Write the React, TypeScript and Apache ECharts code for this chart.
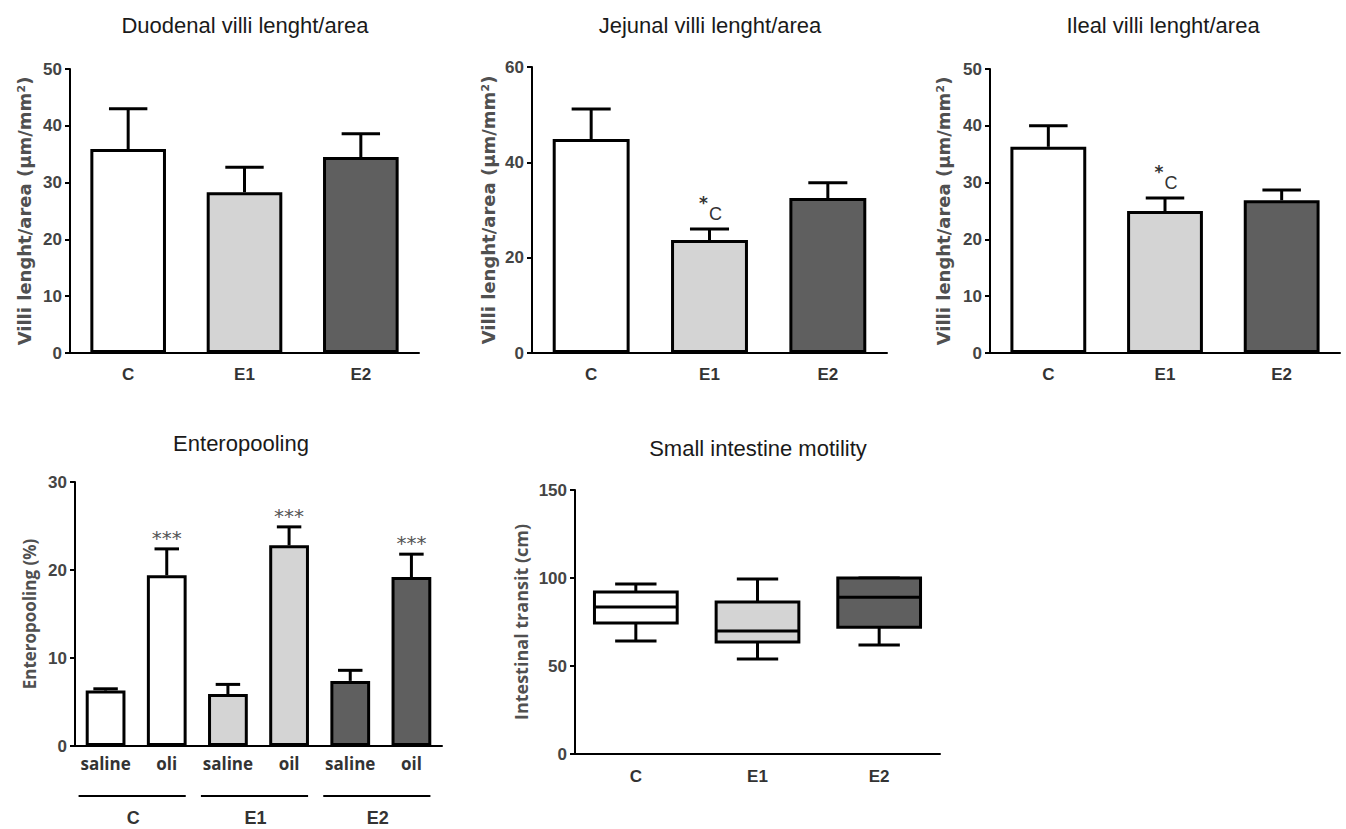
import React, { useEffect, useRef } from "react";
import * as echarts from "echarts";

// ---------- data ----------
const villiCategories = ["C", "E1", "E2"];
const duodenalMean = [35.9, 28.3, 34.5];
const duodenalSem = [7.1, 4.4, 4.1];
const jejunalMean = [44.9, 23.7, 32.5];
const jejunalSem = [6.3, 2.3, 3.2];
const jejunalMarks = ["", "C", ""];
const ilealMean = [36.3, 25.0, 26.9];
const ilealSem = [3.7, 2.3, 1.8];
const ilealMarks = ["", "C", ""];

const poolCategories = ["saline", "oli", "saline", "oil", "saline", "oil"];
const poolGroups = ["C", "E1", "E2"];
const poolMean = [6.3, 19.4, 5.9, 22.8, 7.4, 19.2];
const poolSem = [0.2, 3.0, 1.1, 2.1, 1.2, 2.6];
const poolMarks = ["", "***", "", "***", "", "***"];

const motilityCategories = ["C", "E1", "E2"];
// [min, Q1, median, Q3, max]
const motilityBoxes = [
  [64.2, 74.4, 83.5, 92.0, 96.6],
  [54.0, 63.6, 69.9, 86.4, 99.4],
  [62.0, 72.0, 89.0, 100.0, 100.0],
];

const titles = [
  "Duodenal villi lenght/area",
  "Jejunal villi lenght/area",
  "Ileal villi lenght/area",
  "Enteropooling",
  "Small intestine motility",
];

// ---------- styles ----------
const groupColors = ["#ffffff", "#d4d4d4", "#5f5f5f"];
const poolColors = ["#ffffff", "#ffffff", "#d4d4d4", "#d4d4d4", "#5f5f5f", "#5f5f5f"];
const NUM_FONT = "'Liberation Sans', Arial, sans-serif";
const NAME_FONT = "'DejaVu Sans', sans-serif";
const HUMAN_FONT = "'Open Sans', 'Noto Sans', sans-serif";

const grids = [
  { left: 70, top: 69, width: 349, height: 284 },
  { left: 532, top: 67, width: 355, height: 286 },
  { left: 990, top: 69, width: 350, height: 284 },
  { left: 75, top: 482, width: 367, height: 264 },
  { left: 575, top: 490, width: 365, height: 264 },
];
const titlePos = [
  [245, 25],
  [710, 25],
  [1163, 25],
  [241, 443],
  [758, 448],
];

function makeXAxis(gridIndex: number, data: string[], font: string, margin: number) {
  return {
    type: "category",
    gridIndex,
    data,
    axisLine: { lineStyle: { color: "#000", width: 2 } },
    axisTick: { alignWithLabel: true, length: 6, lineStyle: { color: "#000", width: 2 } },
    axisLabel: { interval: 0, color: "#333", fontFamily: font, fontWeight: "bold", fontSize: 17, margin },
  };
}

function makeYAxis(gridIndex: number, max: number, interval: number, name: string, nameFont: string, nameSize: number, nameGap: number) {
  return {
    type: "value",
    gridIndex,
    min: 0,
    max,
    interval,
    name,
    nameLocation: "middle",
    nameGap,
    nameRotate: 90,
    nameTextStyle: { color: "#505050", fontFamily: nameFont, fontWeight: "bold", fontSize: nameSize },
    splitLine: { show: false },
    axisLine: { show: true, lineStyle: { color: "#000", width: 2 } },
    axisTick: { show: true, length: 5, lineStyle: { color: "#000", width: 2 } },
    axisLabel: { color: "#444", fontFamily: NUM_FONT, fontWeight: "bold", fontSize: 17, margin: 8 },
  };
}

function barSeries(idx: number, values: number[], colors: string[]) {
  return {
    type: "bar",
    xAxisIndex: idx,
    yAxisIndex: idx,
    barWidth: "65%",
    z: 2,
    data: values.map((v, i) => ({
      value: v,
      itemStyle: { color: colors[i], borderColor: "#000", borderWidth: 3 },
    })),
  };
}

function errorSeries(idx: number, mean: number[], sem: number[], marks: string[] | null, markStyle: "letter" | "stars", capFrac: number) {
  return {
    type: "custom",
    xAxisIndex: idx,
    yAxisIndex: idx,
    z: 3,
    clip: false,
    encode: { x: 0, y: [1, 2] },
    data: mean.map((m, i) => [i, m, m + sem[i]]),
    renderItem: (params: any, api: any) => {
      const i = api.value(0);
      const base = api.coord([i, api.value(1)]);
      const top = api.coord([i, api.value(2)]);
      const band = api.size([1, 0])[0];
      const half = band * capFrac;
      const children: any[] = [
        { type: "line", shape: { x1: base[0], y1: base[1], x2: top[0], y2: top[1] }, style: { stroke: "#000", lineWidth: 3 } },
        { type: "line", shape: { x1: top[0] - half, y1: top[1], x2: top[0] + half, y2: top[1] }, style: { stroke: "#000", lineWidth: 3 } },
      ];
      const mark = marks ? marks[params.dataIndex] : "";
      if (mark) {
        if (markStyle === "letter") {
          children.push({
            type: "text",
            style: { x: top[0] - 6, y: top[1] - 26, text: "*", fill: "#333", font: `bold 17px ${NAME_FONT}`, align: "center", verticalAlign: "middle" },
          });
          children.push({
            type: "text",
            style: { x: top[0] + 6, y: top[1] - 15, text: mark, fill: "#333", font: `18px ${NUM_FONT}`, align: "center", verticalAlign: "middle" },
          });
        } else {
          children.push({
            type: "text",
            style: { x: top[0], y: top[1] - 11, text: mark, fill: "#555", font: `20px ${NAME_FONT}`, align: "center", verticalAlign: "middle" },
          });
        }
      }
      return { type: "group", children };
    },
  };
}

export default function App() {
  const ref = useRef<HTMLDivElement>(null);
  useEffect(() => {
    if (!ref.current) return;
    const chart = echarts.init(ref.current, null, { renderer: "svg" });

    const villiName = "Villi lenght/area (μm/mm²)";

    const option: any = {
      animation: false,
      backgroundColor: "#ffffff",
      grid: grids.map((g) => ({ ...g, containLabel: false })),
      xAxis: [
        makeXAxis(0, villiCategories, NUM_FONT, 13),
        makeXAxis(1, villiCategories, NUM_FONT, 13),
        makeXAxis(2, villiCategories, NUM_FONT, 13),
        makeXAxis(3, poolCategories, HUMAN_FONT, 9),
        makeXAxis(4, motilityCategories, NUM_FONT, 14),
      ],
      yAxis: [
        makeYAxis(0, 50, 10, villiName, NAME_FONT, 18, 37),
        makeYAxis(1, 60, 20, villiName, NAME_FONT, 18, 35),
        makeYAxis(2, 50, 10, villiName, NAME_FONT, 18, 38),
        makeYAxis(3, 30, 10, "Enteropooling (%)", HUMAN_FONT, 17, 37),
        makeYAxis(4, 150, 50, "Intestinal transit (cm)", HUMAN_FONT, 18, 45),
      ],
      graphic: titles.map((t, i) => ({
        type: "text",
        x: titlePos[i][0],
        y: titlePos[i][1],
        style: {
          text: t,
          fill: "#1a1a1a",
          font: `22px ${NUM_FONT}`,
          align: "center",
          verticalAlign: "middle",
        },
      })),
      series: [
        barSeries(0, duodenalMean, groupColors),
        errorSeries(0, duodenalMean, duodenalSem, null, "letter", 0.165),
        barSeries(1, jejunalMean, groupColors),
        errorSeries(1, jejunalMean, jejunalSem, jejunalMarks, "letter", 0.165),
        barSeries(2, ilealMean, groupColors),
        errorSeries(2, ilealMean, ilealSem, ilealMarks, "letter", 0.165),
        barSeries(3, poolMean, poolColors),
        errorSeries(3, poolMean, poolSem, poolMarks, "stars", 0.2),
        {
          type: "custom",
          xAxisIndex: 3,
          yAxisIndex: 3,
          clip: false,
          encode: { x: [0, 1], y: 2 },
          data: poolGroups.map((g, i) => [2 * i, 2 * i + 1, 0]),
          renderItem: (params: any, api: any) => {
            const a = api.coord([api.value(0), 0]);
            const b = api.coord([api.value(1), 0]);
            const y = a[1];
            return {
              type: "group",
              children: [
                { type: "line", shape: { x1: a[0] - 27, y1: y + 50, x2: b[0] + 19, y2: y + 50 }, style: { stroke: "#000", lineWidth: 2 } },
                {
                  type: "text",
                  style: {
                    x: (a[0] + b[0]) / 2 - 3,
                    y: y + 72,
                    text: poolGroups[params.dataIndex],
                    fill: "#333",
                    font: `bold 18px ${NUM_FONT}`,
                    align: "center",
                    verticalAlign: "middle",
                  },
                },
              ],
            };
          },
        },
        {
          type: "custom",
          xAxisIndex: 4,
          yAxisIndex: 4,
          clip: false,
          encode: { x: 0, y: [1, 2, 3, 4, 5] },
          data: motilityBoxes.map((b, i) => [i, ...b]),
          renderItem: (params: any, api: any) => {
            const i = api.value(0);
            const cx = api.coord([i, 0])[0];
            const yMin = api.coord([i, api.value(1)])[1];
            const yQ1 = api.coord([i, api.value(2)])[1];
            const yMed = api.coord([i, api.value(3)])[1];
            const yQ3 = api.coord([i, api.value(4)])[1];
            const yMax = api.coord([i, api.value(5)])[1];
            const band = api.size([1, 0])[0];
            const w = band * 0.68;
            const cap = w / 4;
            const st = { stroke: "#000", lineWidth: 3 };
            return {
              type: "group",
              children: [
                { type: "line", shape: { x1: cx, y1: yQ3, x2: cx, y2: yMax }, style: st },
                { type: "line", shape: { x1: cx - cap, y1: yMax, x2: cx + cap, y2: yMax }, style: st },
                { type: "line", shape: { x1: cx, y1: yQ1, x2: cx, y2: yMin }, style: st },
                { type: "line", shape: { x1: cx - cap, y1: yMin, x2: cx + cap, y2: yMin }, style: st },
                {
                  type: "rect",
                  shape: { x: cx - w / 2, y: yQ3, width: w, height: yQ1 - yQ3 },
                  style: { fill: groupColors[params.dataIndex], stroke: "#000", lineWidth: 3 },
                },
                { type: "line", shape: { x1: cx - w / 2, y1: yMed, x2: cx + w / 2, y2: yMed }, style: st },
              ],
            };
          },
        },
      ],
    };
    chart.setOption(option);
    return () => chart.dispose();
  }, []);

  return (
    <div
      ref={ref}
      style={{ position: "fixed", left: 0, top: 0, width: 1346, height: 829, background: "#fff" }}
    />
  );
}
